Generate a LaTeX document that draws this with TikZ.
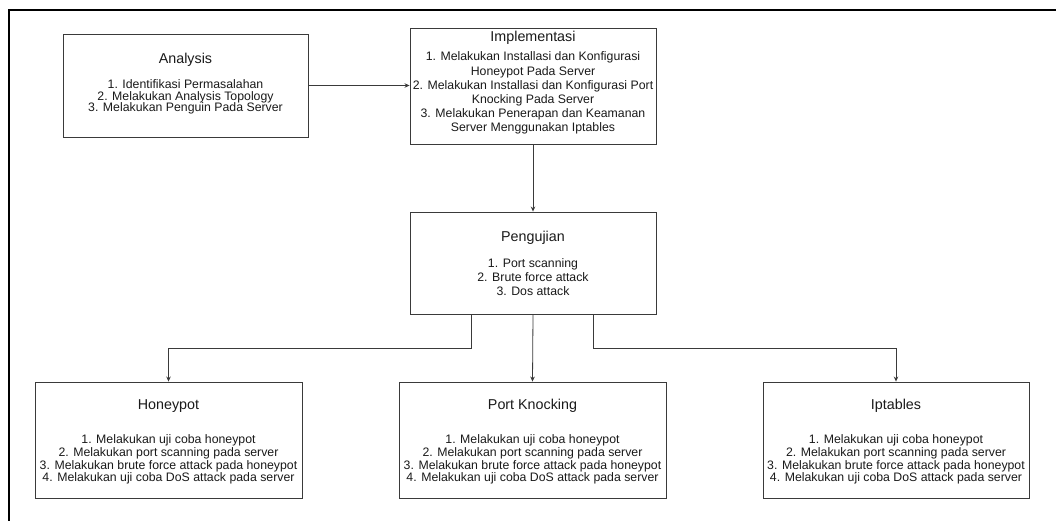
\documentclass[tikz,border=0pt]{standalone}
\usepackage{fontspec}
\setmainfont{Liberation Sans}
\usetikzlibrary{arrows.meta}
\definecolor{edge}{HTML}{3A3A3A}
\definecolor{ink}{HTML}{1A1A1A}
\begin{document}
\begin{tikzpicture}[x=1pt,y=-1pt,
  box/.style={draw=edge, line width=0.9pt, inner sep=0pt, fill=white},
  title/.style={text=ink, font=\fontsize{14.3}{16}\selectfont, inner sep=0pt},
  items/.style={text=ink, align=center, inner sep=0pt},
  arr/.style={draw=edge, line width=0.8pt, -{Stealth[length=5pt,width=4.5pt]}}]
\useasboundingbox (0,0) rectangle (1056,520);
\fill[white] (0,0) rectangle (1056,520);
% outer frame (open to the right and bottom)
\draw[line width=2.2pt, black] (9,521) -- (9,10) -- (1057,10);

% Analysis
\node[box, minimum width=245pt, minimum height=103pt] (ana) at (185.5,85.5) {};
\node[title] (anat) at (185.5,60) {Analysis};
\node[items, font=\fontsize{12.3}{11.7}\selectfont] (anai) at (185.5,97) {1. Identifikasi Permasalahan\\2. Melakukan Analysis Topology\\3. Melakukan Penguin Pada Server};

% Implementasi
\node[box, minimum width=246pt, minimum height=116pt] (impl) at (533,86) {};
\node[title] (implt) at (533,38) {Implementasi};
\node[items, font=\fontsize{12.3}{14.1}\selectfont] (impli) at (533,93) {1. Melakukan Installasi dan Konfigurasi\\Honeypot Pada Server\\2. Melakukan Installasi dan Konfigurasi Port\\Knocking Pada Server\\3. Melakukan Penerapan dan Keamanan\\Server Menggunakan Iptables};

% Pengujian
\node[box, minimum width=246pt, minimum height=102pt] (peng) at (533,263) {};
\node[title] (pengt) at (533,238) {Pengujian};
\node[items, font=\fontsize{12.3}{14.1}\selectfont] (pengi) at (533,277) {1. Port scanning\\2. Brute force attack\\3. Dos attack};

% Honeypot
\node[box, minimum width=267pt, minimum height=116pt] (hp) at (168.5,440) {};
\node[title] (hpt) at (168.5,406) {Honeypot};
\node[items, font=\fontsize{12.3}{12.8}\selectfont] (hpi) at (168.5,459.5) {1. Melakukan uji coba honeypot\\2. Melakukan port scanning pada server\\3. Melakukan brute force attack pada honeypot\\4. Melakukan uji coba DoS attack pada server};

% Port Knocking
\node[box, minimum width=267pt, minimum height=116pt] (pk) at (532.5,440) {};
\node[title] (pkt) at (532.5,406) {Port Knocking};
\node[items, font=\fontsize{12.3}{12.8}\selectfont] (pki) at (532.5,459.5) {1. Melakukan uji coba honeypot\\2. Melakukan port scanning pada server\\3. Melakukan brute force attack pada honeypot\\4. Melakukan uji coba DoS attack pada server};

% Iptables
\node[box, minimum width=266pt, minimum height=116pt] (ipt) at (896,440) {};
\node[title] (iptt) at (896,406) {Iptables};
\node[items, font=\fontsize{12.3}{12.8}\selectfont] (ipti) at (896,459.5) {1. Melakukan uji coba honeypot\\2. Melakukan port scanning pada server\\3. Melakukan brute force attack pada honeypot\\4. Melakukan uji coba DoS attack pada server};

% connectors
\draw[arr] (ana.east) -- (ana.east -| impl.west);
\draw[arr] (impl.south) -- (peng.north);
\draw[arr] ([xshift=-62pt]peng.south) -- ++(0,34) -| (hp.north);
\draw[arr] (peng.south) -- (pk.north);
\draw[arr] ([xshift=60pt]peng.south) -- ++(0,34) -| (ipt.north);
\end{tikzpicture}
\end{document}
